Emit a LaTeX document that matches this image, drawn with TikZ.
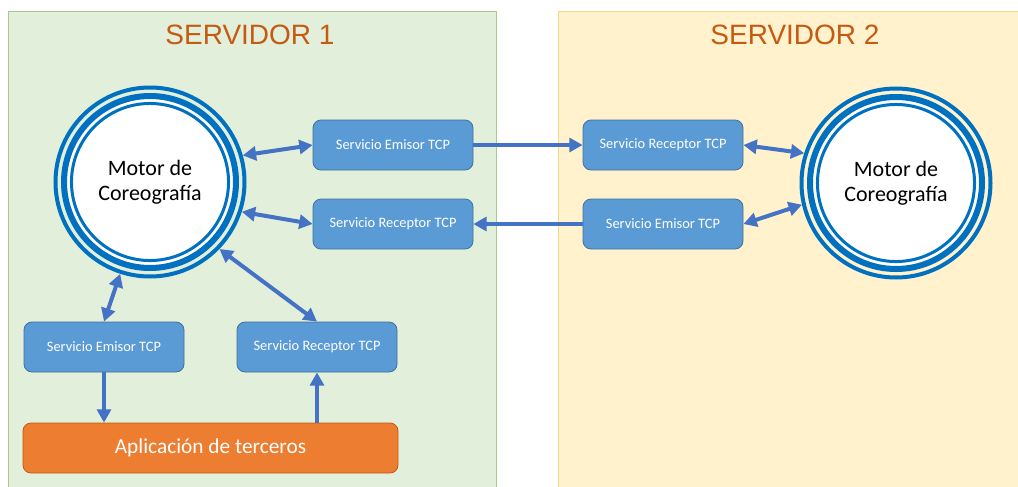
\documentclass[tikz,border=0pt]{standalone}
\usepackage{fontspec}
\setmainfont{Carlito}
\newfontfamily\titlefont{Liberation Sans}
\usetikzlibrary{arrows.meta}
\definecolor{srvgreen}{HTML}{E2EFDA}
\definecolor{srvgreenline}{HTML}{A9C98F}
\definecolor{srvyellow}{HTML}{FFF2CC}
\definecolor{srvyellowline}{HTML}{F2D98C}
\definecolor{titleorange}{HTML}{C55A11}
\definecolor{boxblue}{HTML}{5B9BD5}
\definecolor{boxline}{HTML}{41719C}
\definecolor{ringblue}{HTML}{0070C0}
\definecolor{arrowblue}{HTML}{4472C4}
\definecolor{apporange}{HTML}{ED7D31}
\definecolor{appline}{HTML}{C55A11}
\begin{document}
\begin{tikzpicture}[x=0.75pt,y=-0.75pt,
  service/.style={draw=boxline,fill=boxblue,rounded corners=6pt,line width=0.6pt,
    minimum width=120pt,minimum height=37.5pt,text=white,font=\fontsize{10.8}{12}\selectfont},
  motor/.style={circle,draw=ringblue,line width=3pt,minimum size=141.75pt,inner sep=0pt,
    align=center,font=\fontsize{16.5}{19}\selectfont},
  link/.style={arrowblue,line width=3pt,-{Triangle[length=10pt,width=10.5pt]}},
  dlink/.style={link,{Triangle[length=10pt,width=10.5pt]}-{Triangle[length=10pt,width=10.5pt]}},
  title/.style={text=titleorange,font=\titlefont\fontsize{21}{24}\selectfont}]
\useasboundingbox (0,0) rectangle (1018,486);
% servers
\draw[fill=srvgreen,draw=srvgreenline] (8,11) rectangle (496,490);
\draw[fill=srvyellow,draw=srvyellowline] (558,11) rectangle (1022,490);
\node[title] (t1) at (250,35) {SERVIDOR 1};
\node[title] (t2) at (795,35) {SERVIDOR 2};

% motors
\foreach \n/\x/\y in {m1/150/182,m2/896/183}{
  \fill[white] (\x,\y) circle (62.25pt);
  \draw[ringblue,line width=4.5pt] (\x,\y) circle (64.5pt);
  \draw[ringblue,line width=2.25pt] (\x,\y) circle (58.9pt);
  \node[motor] (\n) at (\x,\y) {Motor de\\Coreograf\'ia};
}

% services
\node[service] (se1) at (393,145) {Servicio Emisor TCP};
\node[service] (sr1) at (393,224) {Servicio Receptor TCP};
\node[service] (sr2) at (663,145) {Servicio Receptor TCP};
\node[service] (se2) at (663,224) {Servicio Emisor TCP};
\node[service] (se3) at (104,347) {Servicio Emisor TCP};
\node[service] (sr3) at (317,347) {Servicio Receptor TCP};
\node[draw=appline,fill=apporange,rounded corners=6pt,line width=0.6pt,
  minimum width=281.25pt,minimum height=37.5pt,text=white,
  font=\fontsize{16}{18}\selectfont] (app) at (210.5,448) {Aplicaci\'on de terceros};

% connectors
\draw[dlink] (m1.16) -- (se1.west);
\draw[dlink] (m1.-18) -- (sr1.west);
\draw[link] (se1.east) -- (sr2.west);
\draw[link] (se2.west) -- (sr1.east);
\draw[dlink] (sr2.east) -- (m2.162);
\draw[dlink] (se2.east) -- (m2.193);
\draw[dlink] (m1.252) -- (se3.north);
\draw[dlink] (m1.-44) -- (sr3.north);
\draw[link] (se3.south) -- (se3.south |- app.north);
\draw[link] (sr3.south |- app.north) -- (sr3.south);
\end{tikzpicture}
\end{document}
